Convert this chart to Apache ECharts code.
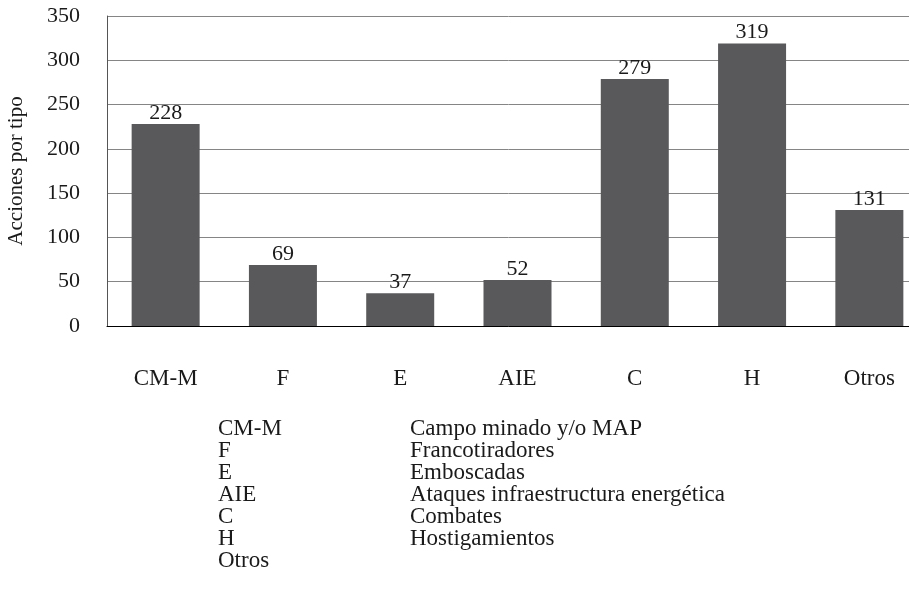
<!DOCTYPE html>
<html><head><meta charset="utf-8">
<script src="https://cdn.jsdelivr.net/npm/echarts@6/dist/echarts.min.js"></script>
<style>html,body{margin:0;padding:0;background:#fff}#c{width:909px;height:596px}</style>
</head><body><div id="c"></div>
<script>
const categories = ['CM-M', 'F', 'E', 'AIE', 'C', 'H', 'Otros'];
const values = [228, 69, 37, 52, 279, 319, 131];
const yTicks = [0, 50, 100, 150, 200, 250, 300, 350];
const legendCodes = ['CM-M', 'F', 'E', 'AIE', 'C', 'H', 'Otros'];
const legendNames = ['Campo minado y/o MAP', 'Francotiradores', 'Emboscadas', 'Ataques infraestructura energética', 'Combates', 'Hostigamientos', ''];

const FONT = '"Liberation Serif", "DejaVu Serif", serif';
const chart = echarts.init(document.getElementById('c'));
const graphic = [];
legendCodes.forEach((code, i) => {
  graphic.push({type:'text', left:218, top:417 + i*22, style:{text:code, font:'23px ' + FONT, fill:'#1a1a1a'}});
  if (legendNames[i]) graphic.push({type:'text', left:410, top:417 + i*22, style:{text:legendNames[i], font:'23px ' + FONT, fill:'#1a1a1a'}});
});
chart.setOption({
  animation:false,
  textStyle:{fontFamily:FONT},
  grid:{left:107, top:16, height:310, width:821, outerBoundsMode:'none', containLabel:false},
  xAxis:{type:'category', data:categories,
    axisLine:{lineStyle:{color:'#000', width:1}}, axisTick:{show:false},
    axisLabel:{margin:41, fontSize:23, color:'#1a1a1a', fontFamily:FONT}},
  yAxis:{type:'value', min:yTicks[0], max:yTicks[yTicks.length-1], interval:50,
    name:'Acciones por tipo', nameLocation:'middle', nameGap:80, nameRotate:90,
    nameTextStyle:{fontSize:21, color:'#1a1a1a', fontFamily:FONT},
    axisLine:{show:true, lineStyle:{color:'#555'}}, axisTick:{show:false},
    splitLine:{lineStyle:{color:'#858585', width:1}},
    axisLabel:{margin:27, fontSize:22, color:'#1a1a1a', fontFamily:FONT}},
  series:[{type:'bar', data:values, barWidth:68,
    itemStyle:{color:'#59595b'},
    label:{show:true, position:'top', distance:0, fontSize:22, color:'#1a1a1a', fontFamily:FONT}}],
  graphic:graphic
});
</script></body></html>
